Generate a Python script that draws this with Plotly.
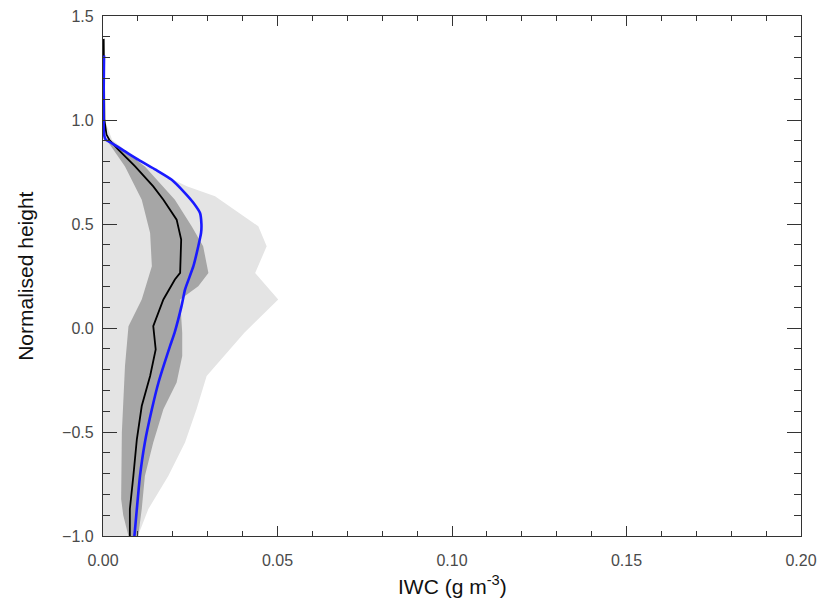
import plotly.graph_objects as go

# Light-grey envelope: right edge (left edge sits on IWC = 0)
light_h = [1.0, 0.905, 0.78, 0.681, 0.633, 0.489, 0.393, 0.265, 0.137, -0.023,
           -0.231, -0.391, -0.55, -0.711, -0.87, -1.0]
light_hi = [0.0005, 0.0026, 0.012, 0.024, 0.0321, 0.0445, 0.0469, 0.0436, 0.0502,
            0.0405, 0.0297, 0.0268, 0.0235, 0.0187, 0.0130, 0.0100]

# Dark-grey envelope: right and left edges
dark_hi_h = [0.905, 0.777, 0.617, 0.489, 0.393, 0.265, 0.201, 0.161, 0.137, -0.023,
             -0.135, -0.262, -0.391, -0.55, -0.711, -0.87, -1.0]
dark_hi = [0.002, 0.012, 0.0206, 0.0254, 0.0287, 0.0302, 0.0273, 0.0240, 0.0221,
           0.0227, 0.0227, 0.0211, 0.0173, 0.0144, 0.0120, 0.0111, 0.0101]
dark_lo_h = [0.905, 0.777, 0.617, 0.457, 0.297, 0.137, 0.009, -0.183, -0.503,
             -0.822, -0.9, -1.0]
dark_lo = [0.001, 0.0063, 0.0111, 0.0135, 0.0140, 0.0111, 0.0073, 0.0063, 0.0054,
           0.0052, 0.0058, 0.0073]

# Mean profile (black)
black_h = [1.39, 1.0, 0.93, 0.905, 0.857, 0.777, 0.681, 0.617, 0.521, 0.425, 0.265,
           0.233, 0.137, 0.009, -0.103, -0.231, -0.375, -0.535, -0.711, -0.87, -1.0]
black_iwc = [0.0002, 0.0004, 0.001, 0.0018, 0.0044, 0.0092, 0.0144, 0.0173, 0.0211,
             0.0224, 0.0221, 0.0206, 0.0173, 0.0144, 0.0151, 0.0135, 0.0111, 0.0097,
             0.0087, 0.0077, 0.0077]

# Smooth profile (blue)
blue_h = [1.31, 0.93, 0.905, 0.889, 0.85, 0.809, 0.76, 0.713, 0.649, 0.60, 0.553,
          0.50, 0.457, 0.393, 0.297, 0.185, 0.105, -0.023, -0.087, -0.262, -0.391,
          -0.55, -0.711, -0.87, -1.0]
blue_iwc = [0.0003, 0.0003, 0.0008, 0.0025, 0.0062, 0.0101, 0.0152, 0.0197, 0.0235,
            0.0260, 0.0278, 0.0282, 0.0281, 0.0273, 0.0259, 0.0235, 0.0225, 0.0205,
            0.0192, 0.0159, 0.0140, 0.0120, 0.0106, 0.0097, 0.0090]

x_ticks = [0.0, 0.05, 0.10, 0.15, 0.20]
y_ticks = [-1.0, -0.5, 0.0, 0.5, 1.0, 1.5]
x_title = "IWC (g m<sup>-3</sup>)"
y_title = "Normalised height"

FONT = "Liberation Sans, Arial, Helvetica, sans-serif"

fig = go.Figure()

# light envelope polygon: right edge downwards, then back up along x = 0
fig.add_trace(go.Scatter(
    x=light_hi + [0.0, 0.0], y=light_h + [light_h[-1], light_h[0]],
    fill="toself", mode="lines", line=dict(width=0),
    fillcolor="#e4e4e4", hoverinfo="skip", showlegend=False))

# dark envelope polygon: right edge downwards, left edge upwards
fig.add_trace(go.Scatter(
    x=dark_hi + dark_lo[::-1], y=dark_hi_h + dark_lo_h[::-1],
    fill="toself", mode="lines", line=dict(width=0),
    fillcolor="#a6a6a6", hoverinfo="skip", showlegend=False))

fig.add_trace(go.Scatter(x=black_iwc, y=black_h, mode="lines",
                         line=dict(color="black", width=1.8), showlegend=False,
                         cliponaxis=False))
fig.add_trace(go.Scatter(x=blue_iwc, y=blue_h, mode="lines",
                         line=dict(color="#1a1aff", width=2.6, shape="spline",
                                   smoothing=0.5),
                         showlegend=False, cliponaxis=False))

axis_common = dict(
    showgrid=False, zeroline=False, showline=True, linecolor="#333333",
    linewidth=1.2, mirror="allticks", ticks="inside", tickcolor="#333333",
    automargin=False,
    tickfont=dict(family=FONT, size=16, color="#4a4a4a"),
)

fig.update_xaxes(
    range=[0.0, 0.20], tickvals=x_ticks, tickformat=".2f", ticklen=10,
    ticklabelstandoff=10,
    minor=dict(dtick=0.01, ticks="inside", ticklen=5, tickcolor="#333333"),
    **axis_common)
fig.update_yaxes(
    range=[-1.0, 1.5], tickvals=y_ticks, tickformat=".1f", ticklen=14,
    ticklabelstandoff=5,
    minor=dict(dtick=0.1, ticks="inside", ticklen=7, tickcolor="#333333"),
    **axis_common)

# axis titles
fig.add_annotation(text=x_title, xref="paper", yref="paper", x=0.5, y=-0.094,
                   xanchor="center", yanchor="middle", showarrow=False,
                   font=dict(family=FONT, size=21, color="#111111"))
fig.add_annotation(text=y_title, xref="paper", yref="paper", x=-0.112, y=0.5,
                   xanchor="center", yanchor="middle", showarrow=False,
                   textangle=-90,
                   font=dict(family=FONT, size=21, color="#111111"))

fig.update_layout(
    width=825, height=605,
    margin=dict(l=103, r=24, t=16, b=69),
    plot_bgcolor="white", paper_bgcolor="white",
)

fig.write_html("out.html")
